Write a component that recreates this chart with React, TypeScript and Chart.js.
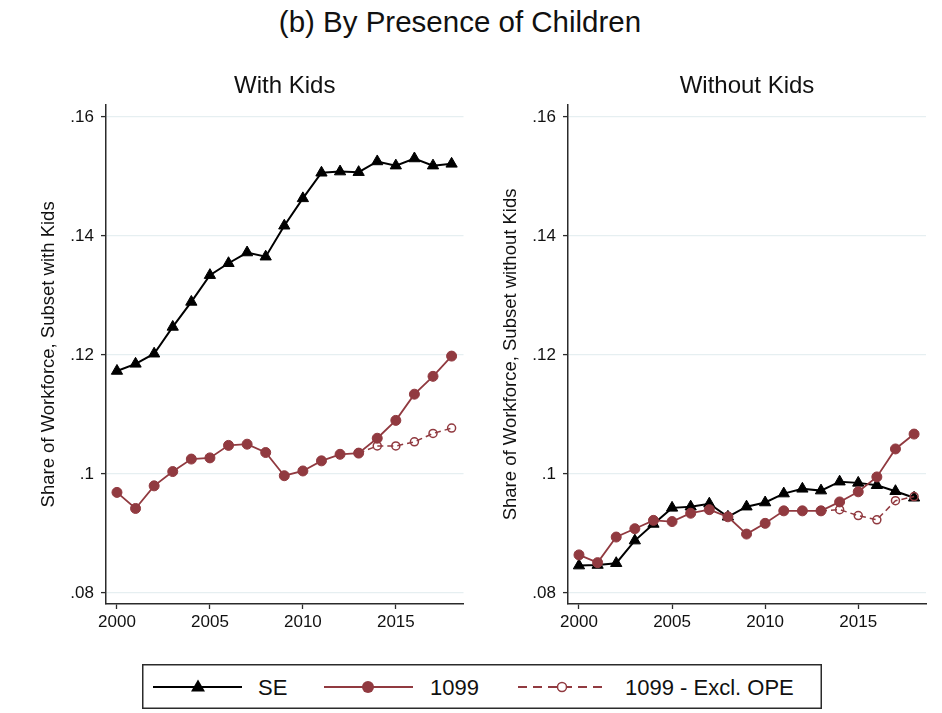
import React, { useEffect, useRef } from 'react'
import Chart from 'chart.js/auto'

const FONT = '"Liberation Sans", Arial, Helvetica, sans-serif'
const TEXT = '#111111'
const AXIS = '#2b2b2b'
const GRID = '#e6eff1'
const MAROON = '#913a40'

const YEARS = [
  2000, 2001, 2002, 2003, 2004, 2005, 2006, 2007, 2008, 2009,
  2010, 2011, 2012, 2013, 2014, 2015, 2016, 2017, 2018,
]
const X_TICKS = [2000, 2005, 2010, 2015]
const Y_TICKS = [0.08, 0.1, 0.12, 0.14, 0.16]

// With kids
const KIDS_SE = [
  0.1173, 0.1185, 0.1202, 0.1247, 0.1289, 0.1334, 0.1354, 0.1372, 0.1365, 0.1417,
  0.1463, 0.1506, 0.1508, 0.1507, 0.1525, 0.1518, 0.1530, 0.1518, 0.1521,
]
const KIDS_1099 = [
  0.0969, 0.0942, 0.0980, 0.1004, 0.1025, 0.1027, 0.1048, 0.1050, 0.1036, 0.0997,
  0.1005, 0.1022, 0.1033, 0.1035, 0.1060, 0.1090, 0.1134, 0.1164, 0.1198,
]
const KIDS_1099_EXCL = [
  null, null, null, null, null, null, null, null, null, null,
  null, null, null, 0.1035, 0.1047, 0.1047, 0.1054, 0.1068, 0.1077,
]

// Without kids
const NOKIDS_SE = [
  0.0846, 0.0847, 0.0850, 0.0888, 0.0916, 0.0943, 0.0945, 0.0950, 0.0928, 0.0945,
  0.0952, 0.0967, 0.0975, 0.0972, 0.0987, 0.0985, 0.0981, 0.0971, 0.0960,
]
const NOKIDS_1099 = [
  0.0864, 0.0851, 0.0894, 0.0908, 0.0922, 0.0920, 0.0934, 0.0940, 0.0928, 0.0899,
  0.0917, 0.0938, 0.0938, 0.0938, 0.0953, 0.0970, 0.0995, 0.1042, 0.1067,
]
const NOKIDS_1099_EXCL = [
  null, null, null, null, null, null, null, null, null, null,
  null, null, null, 0.0938, 0.0940, 0.0930, 0.0923, 0.0955, 0.0962,
]

const SERIES_LABELS = ['SE', '1099', '1099 - Excl. OPE']

const toPoints = (values: (number | null)[]) =>
  YEARS.map((x, i) => ({ x, y: values[i] }))

const fmtShare = (v: number) => v.toFixed(2).replace(/^0/, '').replace(/0$/, '')

interface PanelProps {
  title: string
  yTitle: string
  se: number[]
  f1099: number[]
  excl: (number | null)[]
  left: number
  axisWidth: number
  yTitlePad: number
  padRight: number
}

const Panel: React.FC<PanelProps> = ({
  title,
  yTitle,
  se,
  f1099,
  excl,
  left,
  axisWidth,
  yTitlePad,
  padRight,
}) => {
  const canvasRef = useRef<HTMLCanvasElement>(null)

  useEffect(() => {
    const canvas = canvasRef.current
    if (!canvas) return

    const chart = new Chart(canvas, {
      type: 'line',
      data: {
        datasets: [
          {
            label: SERIES_LABELS[0],
            data: toPoints(se),
            borderColor: '#000000',
            backgroundColor: '#000000',
            borderWidth: 2,
            pointStyle: 'triangle',
            pointRadius: 6.5,
            pointBorderWidth: 1,
            tension: 0,
            order: 3,
          },
          {
            label: SERIES_LABELS[1],
            data: toPoints(f1099),
            borderColor: MAROON,
            backgroundColor: MAROON,
            borderWidth: 1.8,
            pointStyle: 'circle',
            pointRadius: 5,
            pointBorderWidth: 1,
            tension: 0,
            order: 2,
          },
          {
            label: SERIES_LABELS[2],
            data: toPoints(excl),
            borderColor: MAROON,
            backgroundColor: 'rgba(0,0,0,0)',
            borderWidth: 1.5,
            borderDash: [6, 4],
            pointStyle: 'circle',
            pointRadius: 4,
            pointBorderWidth: 1.5,
            tension: 0,
            spanGaps: false,
            order: 1,
          },
        ],
      },
      options: {
        animation: false,
        responsive: true,
        maintainAspectRatio: false,
        layout: { padding: { left: 0, right: padRight, top: 0, bottom: 0 } },
        plugins: {
          legend: { display: false },
          tooltip: { enabled: false },
          title: {
            display: true,
            text: title,
            color: TEXT,
            fullSize: false,
            font: { family: FONT, size: 24, weight: 'normal' },
            padding: { top: 22, bottom: 4 },
          },
        },
        scales: {
          x: {
            type: 'linear',
            min: 1999.41,
            max: 2018.64,
            afterBuildTicks: (scale) => {
              scale.ticks = X_TICKS.map((value) => ({ value }))
            },
            afterFit: (scale) => {
              scale.height = 46
            },
            grid: {
              drawOnChartArea: false,
              tickLength: 5,
              tickColor: AXIS,
              tickWidth: 1.3,
            },
            border: { color: AXIS, width: 1.5 },
            ticks: {
              color: TEXT,
              font: { family: FONT, size: 17 },
              padding: 3,
              maxRotation: 0,
              autoSkip: false,
              callback: (v) => String(v),
            },
          },
          y: {
            type: 'linear',
            min: 0.07815,
            max: 0.16202,
            afterBuildTicks: (scale) => {
              scale.ticks = Y_TICKS.map((value) => ({ value }))
            },
            afterFit: (scale) => {
              scale.width = axisWidth
            },
            grid: {
              color: GRID,
              lineWidth: 1.2,
              tickLength: 5,
              tickColor: AXIS,
              tickWidth: 1.3,
            },
            border: { color: AXIS, width: 1.5 },
            ticks: {
              color: TEXT,
              font: { family: FONT, size: 17 },
              padding: 7,
              autoSkip: false,
              callback: (v) => fmtShare(Number(v)),
            },
            title: {
              display: true,
              text: yTitle,
              color: TEXT,
              font: { family: FONT, size: 18.5 },
              padding: { top: yTitlePad, bottom: 0 },
            },
          },
        },
      },
    })

    return () => {
      chart.destroy()
    }
    // eslint-disable-next-line react-hooks/exhaustive-deps
  }, [])

  return (
    <div style={{ position: 'absolute', left, top: 50, width: 471, height: 600 }}>
      <canvas ref={canvasRef} />
    </div>
  )
}

const Legend: React.FC = () => {
  const cy = 23
  return (
    <svg
      width={680}
      height={45}
      style={{ position: 'absolute', left: 142, top: 664 }}
      fontFamily={FONT}
    >
      <rect x={0.75} y={0.75} width={678.5} height={43.5} fill="#fff" stroke={AXIS} strokeWidth={1.5} />
      <line x1={11} y1={cy} x2={100} y2={cy} stroke="#000" strokeWidth={2} />
      <polygon points={`56,${cy - 7.5} ${56 - 7},${cy + 4.5} ${56 + 7},${cy + 4.5}`} fill="#000" />
      <text x={116} y={cy} dominantBaseline="central" fontSize={22} fill={TEXT}>
        {SERIES_LABELS[0]}
      </text>
      <line x1={182} y1={cy} x2={271} y2={cy} stroke={MAROON} strokeWidth={2} />
      <circle cx={226} cy={cy} r={6} fill={MAROON} />
      <text x={288} y={cy} dominantBaseline="central" fontSize={22} fill={TEXT}>
        {SERIES_LABELS[1]}
      </text>
      <line x1={376} y1={cy} x2={466} y2={cy} stroke={MAROON} strokeWidth={2} strokeDasharray="9 6" />
      <circle cx={420} cy={cy} r={4.5} fill="#fff" stroke={MAROON} strokeWidth={1.5} />
      <text x={483} y={cy} dominantBaseline="central" fontSize={22} fill={TEXT}>
        {SERIES_LABELS[2]}
      </text>
    </svg>
  )
}

const App: React.FC = () => {
  useEffect(() => {
    document.body.style.margin = '0'
  }, [])

  return (
    <div
      style={{
        position: 'relative',
        width: 942,
        height: 713,
        background: '#ffffff',
        fontFamily: FONT,
        overflow: 'hidden',
      }}
    >
      <div
        style={{
          position: 'absolute',
          left: 0,
          top: 5,
          width: 920,
          textAlign: 'center',
          fontSize: 29.5,
          lineHeight: '34px',
          color: TEXT,
        }}
      >
        (b) By Presence of Children
      </div>
      <Panel
        title="With Kids"
        yTitle="Share of Workforce, Subset with Kids"
        se={KIDS_SE}
        f1099={KIDS_1099}
        excl={KIDS_1099_EXCL}
        left={0}
        axisWidth={106}
        yTitlePad={38}
        padRight={6}
      />
      <Panel
        title="Without Kids"
        yTitle="Share of Workforce, Subset without Kids"
        se={NOKIDS_SE}
        f1099={NOKIDS_1099}
        excl={NOKIDS_1099_EXCL}
        left={471}
        axisWidth={97}
        yTitlePad={29}
        padRight={16}
      />
      <Legend />
    </div>
  )
}

export default App
